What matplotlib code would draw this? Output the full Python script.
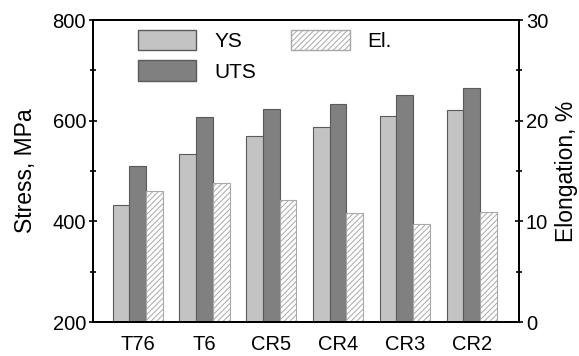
import numpy as np
import matplotlib
matplotlib.use('Agg')
import matplotlib.pyplot as plt
import matplotlib.patches as mpatches

plt.rcParams['font.family'] = ['Liberation Sans', 'DejaVu Sans']
plt.rcParams['hatch.linewidth'] = 0.7

# data
conditions = ['T76', 'T6', 'CR5', 'CR4', 'CR3', 'CR2']
ys = [432, 533, 569, 588, 609, 622]
uts = [510, 608, 623, 634, 651, 664]
elong = [13.0, 13.8, 12.1, 10.8, 9.7, 10.9]

x = np.arange(len(conditions))
w = 0.25

fig = plt.figure(figsize=(5.79, 3.56), dpi=100)
ax = fig.add_axes([0.1606, 0.0955, 0.7358, 0.8483])
ax2 = ax.twinx()

c_ys = '#c3c3c3'
c_uts = '#808080'
edge = '#5a5a5a'

ax.bar(x - w, [v - 200 for v in ys], w, bottom=200, color=c_ys, edgecolor=edge, linewidth=0.8)
ax.bar(x, [v - 200 for v in uts], w, bottom=200, color=c_uts, edgecolor=edge, linewidth=0.8)
ax2.bar(x + w, elong, w, color='white', edgecolor='#a8a8a8', hatch='//////', linewidth=0.8)

ax.set_xlim(-0.67, 5.71)
ax.set_ylim(200, 800)
ax2.set_ylim(0, 30)
ax.set_yticks([200, 400, 600, 800])
ax.set_yticks([300, 500, 700], minor=True)
ax2.set_yticks([0, 10, 20, 30])
ax2.set_yticks([5, 15, 25], minor=True)
ax.set_xticks(x)
ax.set_xticklabels(conditions)

ax.tick_params(axis='x', length=0, labelsize=14.5, pad=9)
ax.tick_params(axis='y', which='major', direction='inout', length=6, width=1.2, labelsize=14.5, pad=2)
ax.tick_params(axis='y', which='minor', direction='inout', length=4, width=1.2)
ax2.tick_params(axis='y', which='major', direction='inout', length=6, width=1.2, labelsize=14.5, pad=2)
ax2.tick_params(axis='y', which='minor', direction='inout', length=4, width=1.2)

for a in (ax, ax2):
    for s in a.spines.values():
        s.set_linewidth(1.4)

ax.set_ylabel('Stress, MPa', fontsize=16.5, labelpad=11)
ax2.set_ylabel('Elongation, %', fontsize=16.5, labelpad=5)

handles = [mpatches.Patch(facecolor=c_ys, edgecolor=edge, label='YS'),
           mpatches.Patch(facecolor=c_uts, edgecolor=edge, label='UTS'),
           mpatches.Patch(facecolor='white', edgecolor='#a8a8a8', hatch='//////', label='El.')]
ax2.legend(handles=handles, ncol=2, frameon=False, loc='upper left',
           bbox_to_anchor=(0.106, 0.968), fontsize=15, borderpad=0,
           handlelength=2.8, handleheight=1.15, handletextpad=0.85,
           columnspacing=1.7, labelspacing=0.45, borderaxespad=0)

plt.savefig('out.png', dpi=100)
